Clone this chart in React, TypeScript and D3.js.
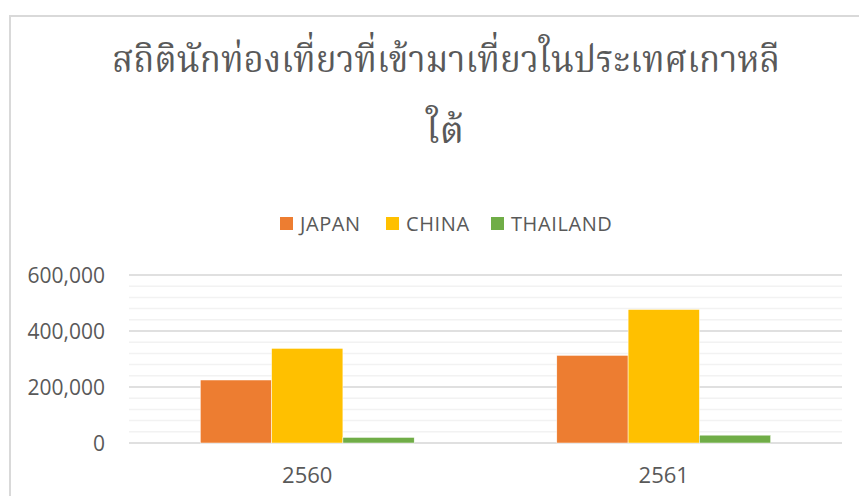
import React from "react";
import * as d3 from "d3";

const categories = ["2560", "2561"];
const seriesNames = ["JAPAN", "CHINA", "THAILAND"];
const japan = [225000, 313000];
const china = [338000, 477000];
const thailand = [20000, 28000];
const yTicks = [0, 200000, 400000, 600000];
const titleLine1 = "สถิตินักท่องเที่ยวที่เข้ามาเที่ยวในประเทศเกาหลี";
const titleLine2 = "ใต้";

const colors = ["#ED7D31", "#FFC000", "#70AD47"];
const W = 859;
const H = 496;

export default function App() {
  const values = [japan, china, thailand];
  const left = 129, right = 842, top = 275, bottom = 443;
  const x = d3.scaleBand<string>().domain(categories).range([left, right]).paddingInner(0).paddingOuter(0);
  const y = d3.scaleLinear().domain([0, 600000]).range([bottom, top]);
  const minor = d3.range(0, 600001, 40000);
  const groupW = x.bandwidth() * 0.6;
  const xs = d3.scaleBand<string>().domain(seriesNames).range([0, groupW]);
  const fmt = d3.format(",");
  const legendX = [280, 386, 491];
  const font = "'Open Sans', 'Noto Sans', sans-serif";
  const thaiFont = "'Noto Serif Thai', 'Noto Sans Thai', 'Loma', 'Garuda', serif";

  return (
    <svg width={W} height={H} style={{ position: "absolute", left: 0, top: 0, display: "block" }}>
      <rect x={0} y={0} width={W} height={H} fill="#fff" />
      <rect x={10} y={16} width={W + 20} height={H + 20} fill="#fff" stroke="#d9d9d9" strokeWidth={2} />
      <text x={112} y={72} fontSize={38} fill="#595959" textLength={668} lengthAdjust="spacingAndGlyphs"
        fontFamily={thaiFont}>{titleLine1}</text>
      <text x={445} y={143} textAnchor="middle" fontSize={38} fill="#595959"
        fontFamily={thaiFont}>{titleLine2}</text>
      {seriesNames.map((s, i) => (
        <g key={s}>
          <rect x={legendX[i]} y={217} width={13} height={13} fill={colors[i]} />
          <text x={legendX[i] + 20} y={231} fontSize={20} letterSpacing={0.6} fill="#595959" fontFamily={font}>{s}</text>
        </g>
      ))}
      {minor.map((v) => (
        <line key={"m" + v} x1={left} x2={right} y1={y(v)} y2={y(v)} stroke="#f2f2f2" strokeWidth={1.5} />
      ))}
      {yTicks.map((v) => (
        <g key={v}>
          <line x1={left} x2={right} y1={y(v)} y2={y(v)} stroke="#d9d9d9" strokeWidth={1.5} />
          <text x={105} y={y(v) + 8} textAnchor="end" fontSize={21} fill="#595959" fontFamily={font}>{fmt(v)}</text>
        </g>
      ))}
      {categories.map((c, ci) => {
        const gx = x(c)! + (x.bandwidth() - groupW) / 2;
        return (
          <g key={c}>
            {seriesNames.map((s, si) => (
              <rect key={s} x={gx + xs(s)!} y={y(values[si][ci])} width={xs.bandwidth()}
                height={y(0) - y(values[si][ci])} fill={colors[si]} stroke="#fff" strokeWidth={0.5} />
            ))}
            <text x={x(c)! + x.bandwidth() / 2} y={483} textAnchor="middle" fontSize={22} fill="#595959" fontFamily={font}>{c}</text>
          </g>
        );
      })}
    </svg>
  );
}
